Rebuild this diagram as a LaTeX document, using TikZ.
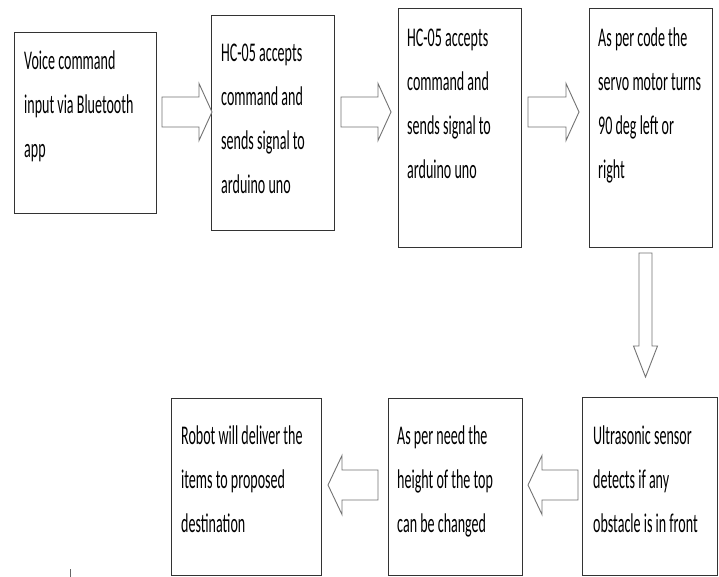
\documentclass[tikz,border=0pt]{standalone}
\usepackage{fontspec}
\setmainfont[FakeStretch=0.52]{Carlito}
\tikzset{
  box/.style={draw=black!80, line width=1.2pt, fill=white, inner sep=0pt, anchor=north west},
  txt/.style={anchor=base west, align=left, inner sep=0pt, font=\fontsize{27}{44}\selectfont, text=black},
  barrow/.style={draw=black!55, line width=0.9pt, fill=white, line join=miter}
}
% right-pointing block arrow: tail x, tip x, y, shaft half, head half, head length
\newcommand{\rblock}[6]{%
  \draw[barrow] (#1,#3-#4) -- (#2-#6,#3-#4) -- (#2-#6,#3-#5) -- (#2,#3) -- (#2-#6,#3+#5) -- (#2-#6,#3+#4) -- (#1,#3+#4) -- cycle;}
% left-pointing block arrow: tail x, tip x, y, shaft half, head half, head length
\newcommand{\lblock}[6]{%
  \draw[barrow] (#1,#3-#4) -- (#2+#6,#3-#4) -- (#2+#6,#3-#5) -- (#2,#3) -- (#2+#6,#3+#5) -- (#2+#6,#3+#4) -- (#1,#3+#4) -- cycle;}
\begin{document}
\begin{tikzpicture}[x=1pt, y=-1pt]
\useasboundingbox (0,0) rectangle (719,577);
\fill[white] (0,0) rectangle (719,577);

% boxes
\node[box, minimum width=142pt, minimum height=181pt] (b1) at (14,32) {};
\node[box, minimum width=123pt, minimum height=215pt] (b2) at (211,15) {};
\node[box, minimum width=123pt, minimum height=239pt] (b3) at (398,8) {};
\node[box, minimum width=123pt, minimum height=239pt] (b4) at (589,8) {};
\node[box, minimum width=135pt, minimum height=178pt] (b5) at (582,397) {};
\node[box, minimum width=134pt, minimum height=177pt] (b6) at (388,398) {};
\node[box, minimum width=150pt, minimum height=177pt] (b7) at (171,398) {};

% texts (anchor = baseline of the last line)
\node[txt] (t1) at (24,158) {Voice command\\input via Bluetooth\\app};
\node[txt] (t2) at (221,194) {HC-05 accepts\\command and\\sends signal to\\arduino uno};
\node[txt] (t3) at (407,179) {HC-05 accepts\\command and\\sends signal to\\arduino uno};
\node[txt] (t4) at (598,179) {As per code the\\servo motor turns\\90 deg left or\\right};
\node[txt] (t5) at (593,532) {Ultrasonic sensor\\detects if any\\obstacle is in front};
\node[txt] (t6) at (397,532) {As per need the\\height of the top\\can be changed};
\node[txt] (t7) at (181,532) {Robot will deliver the\\items to proposed\\destination};

% block arrows
\rblock{162}{212}{112}{15}{28.5}{13}
\rblock{341}{391}{112}{15}{28.5}{13}
\rblock{528}{579}{112}{15}{28.5}{13}
\draw[barrow] (645.5-6.5,253) -- (645.5-6.5,346) -- (645.5-12,346) -- (645.5,377) -- (645.5+12,346) -- (645.5+6.5,346) -- (645.5+6.5,253) -- cycle;
\lblock{578}{528}{485}{15}{29.5}{14}
\lblock{378}{328}{485}{15}{29.5}{14}

% stray tick
\draw[black!60, line width=1pt] (70,569) -- (70,577);
\end{tikzpicture}
\end{document}
